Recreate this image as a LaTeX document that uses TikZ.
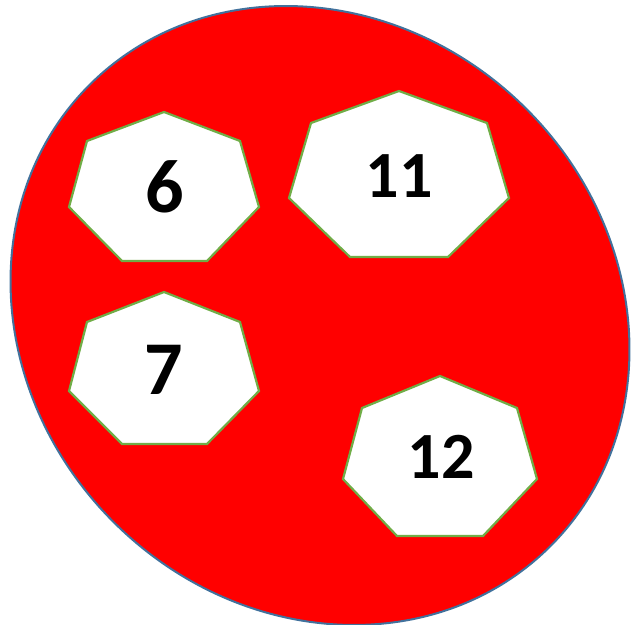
\documentclass[tikz,border=0pt]{standalone}
\usepackage{fontspec}
\setmainfont{Carlito}
\definecolor{ellred}{HTML}{FF0000}
\definecolor{ellblue}{HTML}{41719C}
\definecolor{hepgreen}{HTML}{70AD47}
\tikzset{
  hept/.style={draw=hepgreen, fill=white, line width=2.2pt, line join=miter},
  bignum/.style={inner sep=0pt, font=\bfseries\fontsize{76}{76}\selectfont},
  midnum/.style={inner sep=0pt, font=\bfseries\fontsize{66}{66}\selectfont}
}
\begin{document}
\begin{tikzpicture}[x=1pt,y=1pt]
\useasboundingbox (0,0) rectangle (631,624);
% big tilted ellipse (image coords converted: Y = 624 - y)
\coordinate (c) at (320,308.5);
\fill[ellred, draw=ellblue, line width=2pt, rotate around={-45:(c)}]
  (c) ellipse [x radius=326, y radius=292];
% heptagon 6
\draw[hept] (164,512) -- (240,483) -- (259,417) -- (207,363) -- (122,363) -- (69,417) -- (87,483) -- cycle;
% heptagon 11
\draw[hept] (399,533) -- (487,501) -- (509,426) -- (448,367) -- (350,367) -- (289,426) -- (311,501) -- cycle;
% heptagon 7
\draw[hept] (164,332) -- (240,302) -- (259,233) -- (207,180) -- (122,180) -- (69,233) -- (87,302) -- cycle;
% heptagon 12
\draw[hept] (440,248) -- (517,216) -- (537,145) -- (483,88) -- (397,88) -- (343,145) -- (362,216) -- cycle;
% labels
\node[bignum] (n6) at (165,437) {6};
\node[midnum] (n11) at (399,448) {11};
\node[bignum] (n7) at (164,254) {7};
\node[midnum] (n12) at (441,167) {12};
\end{tikzpicture}
\end{document}
